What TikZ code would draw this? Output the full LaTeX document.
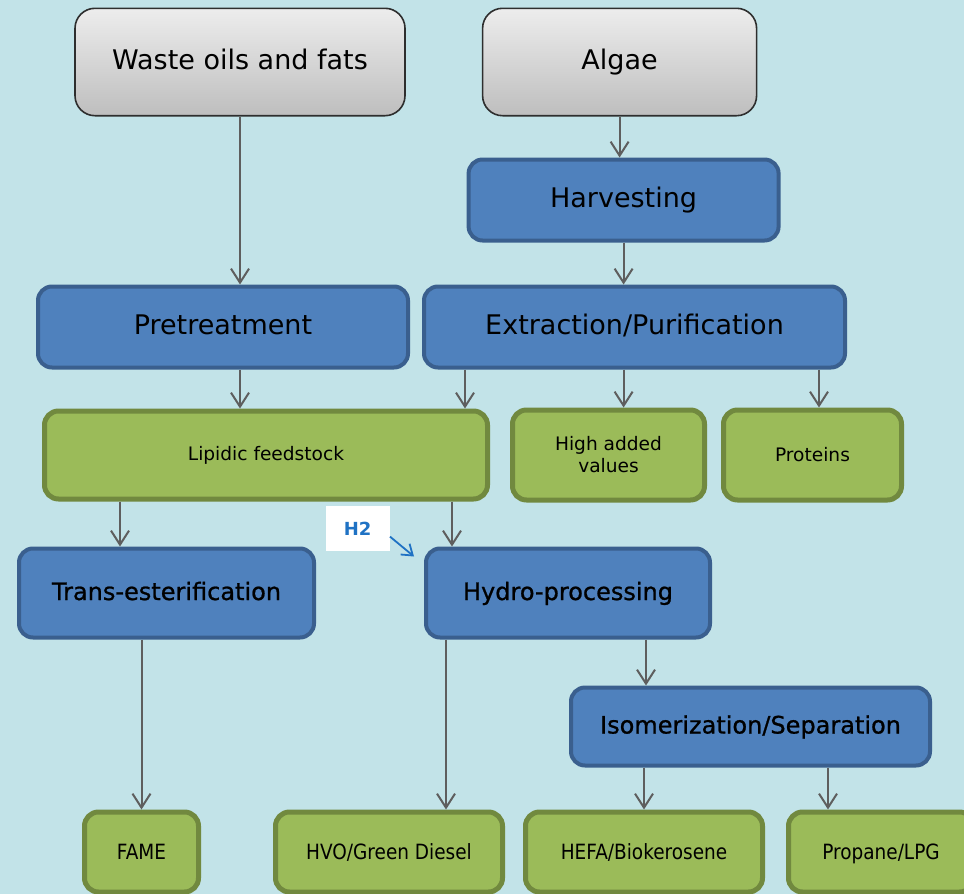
\documentclass[tikz,border=0pt]{standalone}
\usepackage{fontspec}
\setmainfont{DejaVu Sans}
\newfontfamily\narrowfont[FakeStretch=0.88]{DejaVu Sans}
\newfontfamily\stagefont[FakeBold=0.9]{DejaVu Sans}
\usetikzlibrary{arrows.meta,positioning}

\definecolor{bgcyan}{HTML}{C2E3E8}
\definecolor{srctop}{HTML}{EDEDED}
\definecolor{srcbot}{HTML}{BEBEBE}
\definecolor{srcline}{HTML}{2E2E2E}
\definecolor{bluefill}{HTML}{4F81BD}
\definecolor{blueline}{HTML}{3A5F8E}
\definecolor{greenfill}{HTML}{9BBB59}
\definecolor{greenline}{HTML}{71893F}
\definecolor{flowgrey}{HTML}{5E5E5E}
\definecolor{htwoblue}{HTML}{1F72C4}

\begin{document}
\begin{tikzpicture}[
		node distance=10pt,
		source/.style={draw=srcline, line width=0.8pt, rounded corners=10pt, top color=srctop, bottom color=srcbot, minimum height=53.7pt, text height=0.7em, text depth=0pt, font=\fontsize{13.5}{16}\selectfont},
		process/.style={draw=blueline, line width=2pt, fill=bluefill, rounded corners=7pt, minimum height=40.5pt, text height=0.7em, text depth=0pt, font=\fontsize{13.5}{16}\selectfont},
		stage/.style={process, minimum height=44.5pt, font=\stagefont\fontsize{12}{14}\selectfont},
		product/.style={draw=greenline, line width=2.5pt, fill=greenfill, rounded corners=7pt, minimum height=44pt, align=center, font=\fontsize{9.3}{11}\selectfont},
		endproduct/.style={product, minimum height=40pt, text height=0.73em, text depth=0pt, font=\narrowfont\fontsize{10.5}{12}\selectfont},
		htwobox/.style={fill=white, minimum width=32pt, minimum height=22.5pt, text=htwoblue, font=\bfseries\fontsize{9}{11}\selectfont},
		flow/.style={draw=flowgrey, line width=1pt, -{Straight Barb[length=7pt,width=9pt]}},
		htwoflow/.style={draw=htwoblue, line width=0.9pt, -{Straight Barb[length=5pt,width=7pt]}},
	]
		\fill[bgcyan] (0,0) rectangle (482pt,-447pt);
		\useasboundingbox (0,0) rectangle (482pt,-447pt);

		\node[source, minimum width=165pt] (waste) at (120pt,-31pt) {Waste oils and fats};
		\node[source, minimum width=137pt, right=38pt of waste] (algae) {Algae};
		\node[process, minimum width=155pt, below=20.5pt of algae, xshift=2pt] (harvest) {Harvesting};
		\node[process, minimum width=185pt, below=84pt of waste, xshift=-8.5pt] (pretreat) {Pretreatment};
		\node[process, minimum width=210.5pt, right=6pt of pretreat] (extract) {Extraction/Purification};

		\node[product, minimum width=221.5pt, below right=19.5pt and 3pt of pretreat.south west] (lipid) {Lipidic feedstock};
		\node[product, minimum width=96pt, minimum height=45pt, right=10pt of lipid] (high) {High added\\values};
		\node[product, minimum width=89pt, minimum height=45pt, right=7pt of high] (proteins) {Proteins};

		\node[stage, minimum width=147.5pt, below=22.5pt of lipid.south west, anchor=north west, xshift=-12.5pt] (trans) {Trans-esterification};
		\node[stage, minimum width=142pt, right=54pt of trans] (hydro) {Hydro-processing};
		\node[stage, minimum width=179.5pt, minimum height=39pt, below right=23pt and 72.5pt of hydro.south west] (isom) {Isomerization/Separation};

		\node[endproduct, minimum width=57pt, below right=85pt and 32.5pt of trans.south west] (fame) {FAME};
		\node[endproduct, minimum width=113.5pt, right=36pt of fame] (hvo) {HVO/Green Diesel};
		\node[endproduct, minimum width=118.5pt, right=9pt of hvo] (hefa) {HEFA/Biokerosene};
		\node[endproduct, minimum width=92.5pt, right=10.5pt of hefa] (propane) {Propane/LPG};

		\node[htwobox, anchor=south east, xshift=-17pt, yshift=-2.5pt] (htwo) at (hydro.north west) {H2};

		\coordinate[xshift=21.5pt] (exlip) at (extract.south west);
		\coordinate[xshift=-14pt] (exprot) at (extract.south east);
		\coordinate[xshift=39pt] (liptrans) at (lipid.south west);
		\coordinate[xshift=14pt] (hydroin) at (hydro.north west);
		\coordinate[xshift=11pt] (hydrohvo) at (hydro.south west);
		\coordinate[xshift=38.5pt] (isomin) at (isom.north west);
		\coordinate[xshift=21pt] (isomprop) at (propane.north west);

		\draw[flow] (waste) -- (waste |- pretreat.north);
		\draw[flow] (algae) -- (algae |- harvest.north);
		\draw[flow] (harvest) -- (harvest |- extract.north);

		\draw[flow] (waste |- pretreat.south) -- (waste |- lipid.north);
		\draw[flow] (exlip) -- (exlip |- lipid.north);
		\draw[flow] (harvest |- extract.south) -- (harvest |- high.north);
		\draw[flow] (exprot) -- (exprot |- proteins.north);

		\draw[flow] (liptrans) -- (liptrans |- trans.north);
		\draw[flow] (hydroin |- lipid.south) -- (hydroin);
		\draw[htwoflow] ([yshift=-4pt]htwo.east) -- ([xshift=-5pt,yshift=-5pt]hydro.north west);

		\draw[flow] (fame |- trans.south) -- (fame.north);
		\draw[flow] (hydrohvo) -- (hydrohvo |- hvo.north);
		\draw[flow] (isomin |- hydro.south) -- (isomin);
		\draw[flow] (hefa |- isom.south) -- (hefa.north);
		\draw[flow] (isomprop |- isom.south) -- (isomprop);
\end{tikzpicture}
\end{document}
